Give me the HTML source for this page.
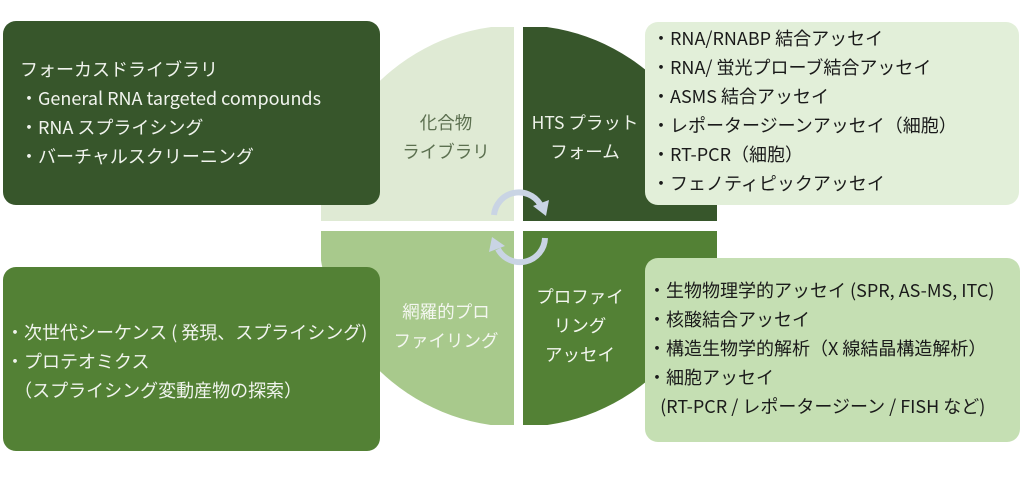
<!DOCTYPE html>
<html><head><meta charset="utf-8"><style>
html,body{margin:0;padding:0;background:#fff;}
body{width:1024px;height:480px;position:relative;overflow:hidden;font-family:"Noto Sans CJK JP","Liberation Sans",sans-serif;}
.box{position:absolute;border-radius:13px;box-sizing:border-box;font-size:18px;line-height:29px;white-space:nowrap;}
.t{position:absolute;font-size:17.5px;line-height:29px;text-align:center;white-space:nowrap;}
</style></head><body>
<svg width="1024" height="480" style="position:absolute;left:0;top:0">
<defs><clipPath id="c"><circle cx="519" cy="226" r="201"/></clipPath></defs>
<g clip-path="url(#c)">
<rect x="321" y="27" width="193" height="194" fill="#dfead4"/>
<rect x="523" y="27" width="194" height="194" fill="#37562b"/>
<rect x="321" y="231" width="193" height="194" fill="#a8c98c"/>
<rect x="523" y="231" width="194" height="194" fill="#538135"/>
</g>
<path d="M494 215 A25 25 0 0 1 540 204" fill="none" stroke="#c9d4e4" stroke-width="6"/>
<polygon points="533,206 549,200 546,216" fill="#c9d4e4"/>
<path d="M545 238 A25 25 0 0 1 498 249" fill="none" stroke="#c9d4e4" stroke-width="6"/>
<polygon points="505,246 489,252 492,237" fill="#c9d4e4"/>
</svg>
<div class="box" style="left:3px;top:21px;width:377px;height:184px;background:#37562b;color:#f1f4ee;padding:34px 0 0 17px;">フォーカスドライブラリ<br>・General RNA targeted compounds<br>・RNA スプライシング<br>・バーチャルスクリーニング</div>
<div class="box" style="left:3px;top:267px;width:377px;height:184px;background:#538135;color:#f1f4ee;padding:51px 0 0 3px;">・次世代シーケンス ( 発現、スプライシング)<br>・プロテオミクス<br>&nbsp;&nbsp;（スプライシング変動産物の探索）</div>
<div class="box" style="left:645px;top:22px;width:374px;height:183px;background:#e2efd9;color:#1a1a1a;padding:2px 0 0 7px;">・RNA/RNABP 結合アッセイ<br>・RNA/ 蛍光プローブ結合アッセイ<br>・ASMS 結合アッセイ<br>・レポータージーンアッセイ（細胞）<br>・RT-PCR（細胞）<br>・フェノティピックアッセイ</div>
<div class="box" style="left:645px;top:258px;width:375px;height:184px;background:#c5dfb3;color:#1a1a1a;padding:18px 0 0 3px;">・生物物理学的アッセイ (SPR, AS-MS, ITC)<br>・核酸結合アッセイ<br>・構造生物学的解析（X 線結晶構造解析）<br>・細胞アッセイ<br>&nbsp;&nbsp;&nbsp;(RT-PCR / レポータージーン / FISH など)</div>
<div class="t" style="left:386px;top:108px;width:120px;color:#5c7050;">化合物<br>ライブラリ</div>
<div class="t" style="left:525px;top:108px;width:120px;color:#eef2ea;">HTS プラット<br>フォーム</div>
<div class="t" style="left:386px;top:297px;width:120px;color:#f4f7f0;">網羅的プロ<br>ファイリング</div>
<div class="t" style="left:520px;top:282px;width:120px;color:#f4f7f0;">プロファイ<br>リング<br>アッセイ</div>
</body></html>
